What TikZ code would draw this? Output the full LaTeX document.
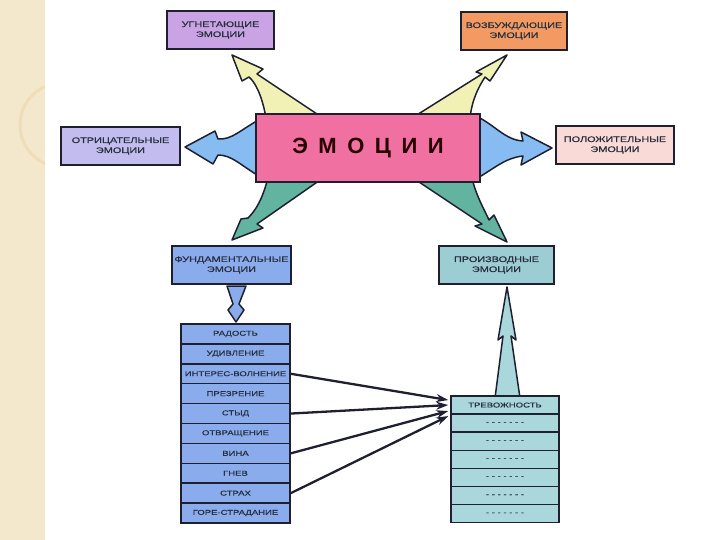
\documentclass[tikz,border=0pt]{standalone}
\usepackage{fontspec}
\setmainfont{Liberation Sans}
\newfontfamily\boxfont[FakeStretch=1.36,FakeBold=0.6]{Liberation Sans}
\usetikzlibrary{arrows.meta,calc}
\definecolor{edge}{HTML}{1E2030}\definecolor{txt}{HTML}{283040}
\definecolor{ugnC}{HTML}{C9A3E3}\definecolor{vozC}{HTML}{F39A62}\definecolor{otrC}{HTML}{C3BDEF}
\definecolor{emoC}{HTML}{F070A2}\definecolor{polC}{HTML}{F9DAD6}\definecolor{fundC}{HTML}{8AACEC}
\definecolor{proC}{HTML}{9CCDD3}\definecolor{trvC}{HTML}{A9D7DC}\definecolor{yelC}{HTML}{F1F1B6}
\definecolor{bluC}{HTML}{86BCF2}\definecolor{grnC}{HTML}{62B39F}
\definecolor{beige}{HTML}{F4E8CC}\definecolor{beigedk}{HTML}{EEDDB8}
\tikzset{>={Stealth[length=12pt,width=8pt]},
  box/.style={draw=edge,line width=1.8pt,inner sep=0pt,align=center,text=txt,font=\boxfont\fontsize{8}{10}\selectfont},
  row/.style={draw=edge,line width=1.5pt,inner sep=0pt,minimum width=109pt,minimum height=19.9pt,text=txt,font=\boxfont\fontsize{7}{8}\selectfont},
  fat/.style={draw=edge,line width=1.5pt,line join=round},
  link/.style={->,draw=edge,line width=2.3pt}}
\begin{document}
\begin{tikzpicture}[x=1pt,y=-1pt]
\useasboundingbox (0,0) rectangle (720,540);
\fill[beige] (0,0) rectangle (45,540);
\begin{scope}\clip (0,0) rectangle (45,540);\draw[beigedk,line width=3pt] (62,125) circle(42);\end{scope}
% big arrows round the centre box
\draw[fat,fill=yelC] (266,118) .. controls (262,95) and (255,82) .. (249,77) -- (242,81) -- (232,55) -- (263,69) -- (257,74) -- (323,118) -- cycle;
\draw[fat,fill=yelC] (412,118) -- (482,74) -- (476,72) -- (507,55) -- (490,81) -- (485,77) .. controls (478,88) and (472,100) .. (470,118) -- cycle;
\draw[fat,fill=bluC] (262,118) .. controls (240,130) and (232,140) .. (218,139) -- (215,131) -- (185,147) -- (213,164) -- (218,155) .. controls (232,155) and (240,165) .. (262,178) -- cycle;
\draw[fat,fill=bluC] (476,116) .. controls (495,125) and (505,140) .. (523,141) -- (521,132) -- (552,148) -- (521,165) -- (523,156) .. controls (505,158) and (495,168) .. (476,179) -- cycle;
\draw[fat,fill=grnC] (268,178) .. controls (262,200) and (256,210) .. (248,218) -- (241,219) -- (232,240) -- (263,228) -- (257,224) -- (323,178) -- cycle;
\draw[fat,fill=grnC] (413,178) -- (482,224) -- (475,226) -- (507,242) -- (494,215) -- (489,220) .. controls (482,205) and (476,195) .. (472,178) -- cycle;
% boxes
\node[box,fill=emoC,minimum width=224pt,minimum height=68pt,text=black!85!red,font=\bfseries\fontsize{22}{24}\selectfont] (emo) at (368,148) {Э\hspace{10.5pt}М\hspace{10.5pt}О\hspace{10.5pt}Ц\hspace{10.5pt}И\hspace{10.5pt}И};
\node[box,fill=ugnC,minimum width=107pt,minimum height=38pt] (ugn) at (220.5,30) {УГНЕТАЮЩИЕ\\ЭМОЦИИ};
\node[box,fill=vozC,minimum width=106pt,minimum height=38pt] (voz) at (514,31) {ВОЗБУЖДАЮЩИЕ\\ЭМОЦИИ};
\node[box,fill=otrC,minimum width=119pt,minimum height=38pt] (otr) at (120.5,146) {ОТРИЦАТЕЛЬНЫЕ\\ЭМОЦИИ};
\node[box,fill=polC,minimum width=118pt,minimum height=38pt] (pol) at (615,145) {ПОЛОЖИТЕЛЬНЫЕ\\ЭМОЦИИ};
\node[box,fill=fundC,minimum width=119pt,minimum height=38pt] (fund) at (231.5,265) {ФУНДАМЕНТАЛЬНЫЕ\\ЭМОЦИИ};
\node[box,fill=proC,minimum width=115pt,minimum height=38pt] (proiz) at (496.5,265) {ПРОИЗВОДНЫЕ\\ЭМОЦИИ};
% small arrows between the lists and boxes
\draw[fat,fill=fundC] (227,286) -- (233,304) -- (228,310) -- (236,322) -- (244,310) -- (239,304) -- (246,286) -- cycle;
\draw[fat,fill=trvC] (495,398) -- (503,336) -- (498,340) -- (507,287) -- (516,340) -- (511,336) -- (520,398) -- cycle;
% the two lists
\foreach \t [count=\i] in {РАДОСТЬ,УДИВЛЕНИЕ,ИНТЕРЕС-ВОЛНЕНИЕ,ПРЕЗРЕНИЕ,СТЫД,ОТВРАЩЕНИЕ,ВИНА,ГНЕВ,СТРАХ,ГОРЕ-СТРАДАНИЕ}
  \node[row,fill=fundC] (f\i) at (235.5,{314.05+19.9*\i}) {\t};
\node[row,fill=trvC,minimum width=108pt,minimum height=18.1pt] (t1) at (505,405.05) {ТРЕВОЖНОСТЬ};
\foreach \i in {2,...,7}
  \node[row,fill=trvC,minimum width=108pt,minimum height=18.1pt] (t\i) at (505,{396+18.1*(\i-0.5)}) {- - - - - - -};
\draw[link] (f3.east) -- ($(t1.west)+(-2,-5)$);
\draw[link] (f5.east) -- ($(t1.west)+(-2,0)$);
\draw[link] (f7.east) -- ($(t1.west)+(-2,6)$);
\draw[link] (f9.east) -- ($(t1.west)+(-2,11)$);
\end{tikzpicture}
\end{document}
